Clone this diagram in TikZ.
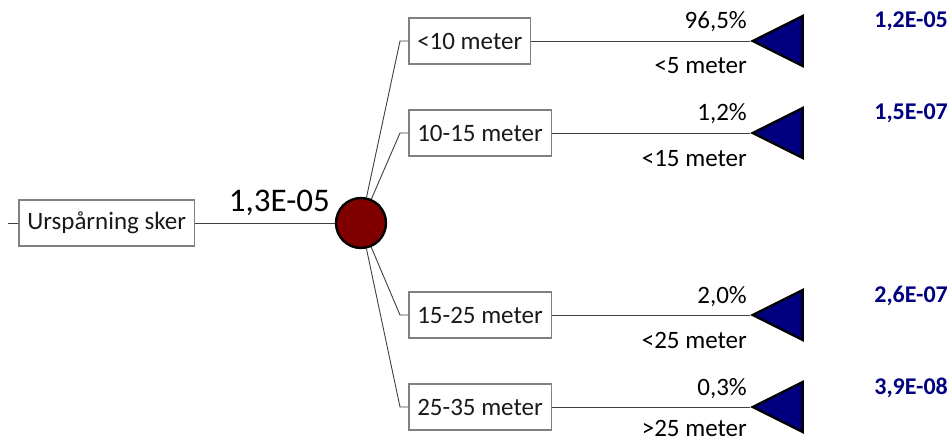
\documentclass[tikz,border=0pt]{standalone}
\usepackage{fontspec}
\setmainfont{Carlito}
\usetikzlibrary{positioning, shapes.geometric}
\definecolor{chancered}{RGB}{128,0,0}
\definecolor{leafblue}{RGB}{0,0,128}

\begin{document}
\begin{tikzpicture}[
    x=1pt, y=-1pt,
    box/.style={rectangle, draw=black!50, line width=1.5pt, minimum height=46pt, inner xsep=8.5pt, anchor=west, font=\fontsize{25}{30}\selectfont, text=black!90},
    chance/.style={circle, draw, line width=2.4pt, fill=chancered, minimum size=50pt, inner sep=0pt},
    leaf/.style={isosceles triangle, shape border rotate=180, isosceles triangle apex angle=53.13, draw, line width=2.4pt, fill=leafblue, minimum width=50pt, minimum height=50pt, inner sep=0pt, anchor=apex},
    branch/.style={line width=0.9pt, black!75},
    label_style/.style={font=\fontsize{25}{30}\selectfont, inner sep=0pt, anchor=base east},
    value_style/.style={font=\bfseries\fontsize{24}{28}\selectfont, text=leafblue, inner sep=0pt, anchor=base east}
]
    \useasboundingbox (0,0) rectangle (952,441);

    % Rot og sjansenode
    \node[box] (root) at (18,223) {Urspårning sker};
    \coordinate[left=10pt of root.west] (start);
    \node[chance] (chance) at (361,223) {};
    \draw[branch] (start) -- (root);
    \draw[branch] (root) -- (chance);
    \node[label_style, font=\fontsize{33}{38}\selectfont] (ptot) at (330,211) {1,3E-05};

    % Grener
    \node[box] (b1) at (408,41) {<10 meter};
    \node[box] (b2) at (408,133) {10-15 meter};
    \node[box] (b3) at (408,315) {15-25 meter};
    \node[box] (b4) at (408,407) {25-35 meter};
    \coordinate[left=8pt of b1.west] (k1);
    \coordinate[left=8pt of b2.west] (k2);
    \coordinate[left=8pt of b3.west] (k3);
    \coordinate[left=8pt of b4.west] (k4);
    \draw[branch] (chance) -- (k1) -- (b1);
    \draw[branch] (chance) -- (k2) -- (b2);
    \draw[branch] (chance) -- (k3) -- (b3);
    \draw[branch] (chance) -- (k4) -- (b4);

    % Endenoder
    \node[leaf] (t1) at (750,41) {};
    \node[leaf] (t2) at (750,133) {};
    \node[leaf] (t3) at (750,315) {};
    \node[leaf] (t4) at (750,407) {};
    \draw[branch] (b1) -- (t1);
    \draw[branch] (b2) -- (t2);
    \draw[branch] (b3) -- (t3);
    \draw[branch] (b4) -- (t4);

    % Sannsynligheter
    \node[label_style] (p1) at (747,29) {96,5\%};
    \node[label_style] (p2) at (747,121) {1,2\%};
    \node[label_style] (p3) at (747,303) {2,0\%};
    \node[label_style] (p4) at (747,395) {0,3\%};
    \node[label_style] (d1) at (747,74) {<5 meter};
    \node[label_style] (d2) at (747,166) {<15 meter};
    \node[label_style] (d3) at (747,348) {<25 meter};
    \node[label_style] (d4) at (747,436) {>25 meter};

    % Resultat
    \node[value_style] (v1) at (948,28) {1,2E-05};
    \node[value_style] (v2) at (948,120) {1,5E-07};
    \node[value_style] (v3) at (948,302) {2,6E-07};
    \node[value_style] (v4) at (948,394) {3,9E-08};
\end{tikzpicture}
\end{document}
